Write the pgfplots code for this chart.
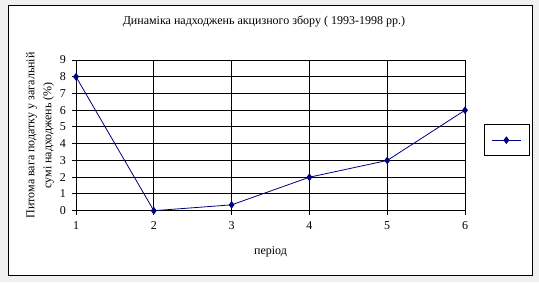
\documentclass[border=0pt]{standalone}
\usepackage{pgfplots}
\pgfplotsset{compat=1.18}
\usepackage{fontspec}
\setmainfont{Liberation Serif}
\definecolor{navy}{HTML}{000080}
\definecolor{bg}{HTML}{F0F0F0}
\begin{document}
\fontsize{12}{14}\selectfont
\begin{tikzpicture}[x=1pt,y=1pt]
\fill[bg] (0,0) rectangle (539,282);
\draw[black, line width=1pt, fill=white] (8.5,6.5) rectangle (532.5,276.5);
\begin{axis}[
  at={(76pt,71.3pt)}, anchor=south west,
  scale only axis, width=389pt, height=150.7pt,
  xmin=1, xmax=6, ymin=0, ymax=9,
  xtick={1,2,3,4,5,6}, ytick={0,1,...,9},
  axis line style={black, line width=1pt},
  grid=major, major grid style={black, line width=1pt},
  tick align=outside, major tick length=4pt,
  tick style={black, line width=1pt},
  xtick pos=bottom, ytick pos=left,
  /pgf/number format/assume math mode=true,
  tick label style={font=\fontsize{12}{14}\selectfont},
  xticklabel style={yshift=-3pt},
  yticklabel style={xshift=-2pt},
  title={Динаміка надходжень акцизного збору ( 1993-1998 рр.)},
  title style={at={(axis description cs:0.483,1)}, anchor=center, yshift=33pt, font=\fontsize{12}{14}\selectfont},
  xlabel={період},
  xlabel style={at={(axis description cs:0.5,0)}, anchor=center, yshift=-41.3pt, font=\fontsize{12}{14}\selectfont},
  ylabel={Питома вага податку у загальній\\сумі надходжень (\%)},
  ylabel style={at={(axis description cs:-0.0925,0.5)}, anchor=center, align=center, font=\fontsize{12}{17}\selectfont},
  legend style={at={(1.049,0.575)}, anchor=north west, draw=black, line width=0.8pt,
    inner xsep=7pt, inner ysep=12.5pt, nodes={inner sep=0pt}, fill=white},
  legend image code/.code={\draw[mark repeat=2,mark phase=2,#1] plot coordinates {(0pt,0pt)(14.5pt,0pt)(29pt,0pt)};},
  clip=false,
]
\addplot[navy, line width=0.8pt, mark=diamond*, mark size=3.2pt, mark options={fill=navy, draw=navy}]
  coordinates {(1,8) (2,0) (3,0.35) (4,2) (5,3) (6,6)};
\addlegendentry{}
\end{axis}
\end{tikzpicture}
\end{document}
